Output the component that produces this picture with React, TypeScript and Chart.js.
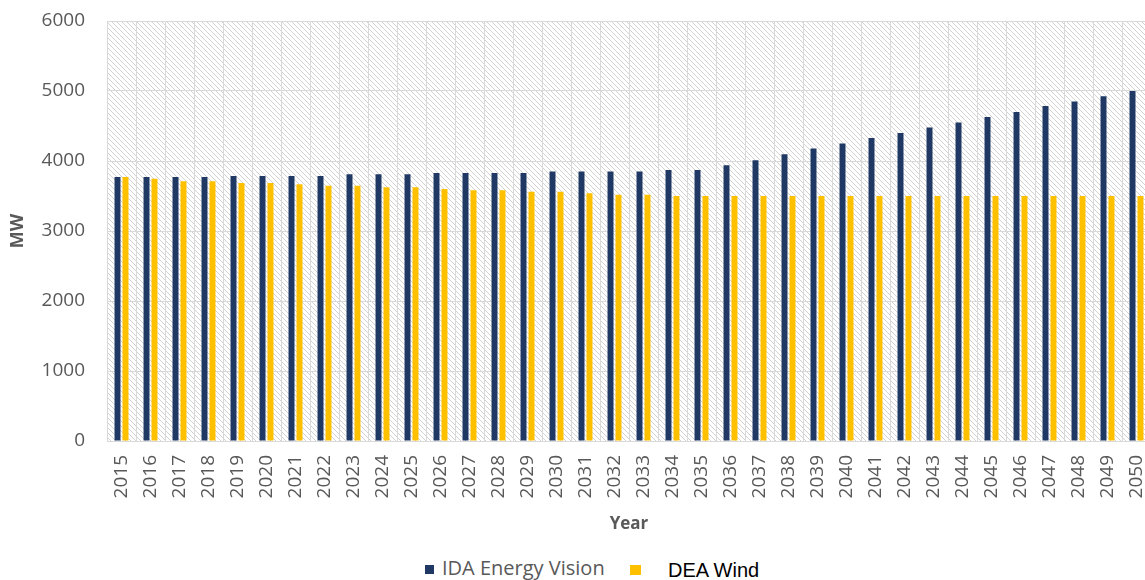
import React, { useEffect, useRef } from 'react';
import { Chart, registerables } from 'chart.js';

Chart.register(...registerables);

const years = [
  '2015', '2016', '2017', '2018', '2019', '2020', '2021', '2022', '2023', '2024', '2025', '2026',
  '2027', '2028', '2029', '2030', '2031', '2032', '2033', '2034', '2035', '2036', '2037', '2038',
  '2039', '2040', '2041', '2042', '2043', '2044', '2045', '2046', '2047', '2048', '2049', '2050',
];

const idaEnergyVision = [
  3770, 3770, 3770, 3770, 3785, 3785, 3785, 3785, 3810, 3810, 3810, 3830,
  3830, 3830, 3830, 3850, 3850, 3850, 3850, 3870, 3870, 3940, 4010, 4095,
  4180, 4250, 4330, 4400, 4480, 4550, 4630, 4700, 4785, 4850, 4925, 5000,
];

const deaWind = [
  3770, 3748, 3710, 3710, 3686, 3686, 3667, 3648, 3648, 3624, 3624, 3600,
  3581, 3581, 3562, 3562, 3538, 3519, 3519, 3500, 3500, 3500, 3500, 3500,
  3500, 3500, 3500, 3500, 3500, 3500, 3500, 3500, 3500, 3500, 3500, 3500,
];

const yMin = 0;
const yMax = 6000;
const yStep = 1000;

const CANVAS_W = 1160;
const CANVAS_H = 540;
const PLOT_BOTTOM = 441;
const PLOT_LEFT = 107;

const hatchPlugin = {
  id: 'hatchBg',
  beforeDraw(chart: any) {
    const { ctx, chartArea } = chart;
    const size = 5;
    const tile = document.createElement('canvas');
    tile.width = size;
    tile.height = size;
    const t = tile.getContext('2d')!;
    t.fillStyle = '#ffffff';
    t.fillRect(0, 0, size, size);
    t.strokeStyle = '#d2d2d2';
    t.lineWidth = 1;
    t.beginPath();
    t.moveTo(-1, -1);
    t.lineTo(size + 1, size + 1);
    t.moveTo(-1, size - 1);
    t.lineTo(1, size + 1);
    t.moveTo(size - 1, -1);
    t.lineTo(size + 1, 1);
    t.stroke();
    const pat = ctx.createPattern(tile, 'repeat');
    ctx.save();
    ctx.fillStyle = pat;
    ctx.fillRect(chartArea.left, chartArea.top, chartArea.right - chartArea.left, chartArea.bottom - chartArea.top);
    ctx.restore();
  },
};

export default function App() {
  const ref = useRef<HTMLCanvasElement>(null);

  useEffect(() => {
    document.body.style.margin = '0';
    document.documentElement.style.overflow = 'hidden';
    const chart = new Chart(ref.current!, {
      type: 'bar',
      data: {
        labels: years,
        datasets: [
          {
            label: 'IDA Energy Vision',
            data: idaEnergyVision,
            backgroundColor: '#203864',
            categoryPercentage: 0.55,
            barPercentage: 0.75,
          },
          {
            label: 'DEA Wind',
            data: deaWind,
            backgroundColor: '#FFC000',
            categoryPercentage: 0.55,
            barPercentage: 0.75,
          },
        ],
      },
      options: {
        responsive: false,
        animation: false,
        layout: { padding: { top: 21, right: 9, left: 0, bottom: 0 } },
        plugins: { legend: { display: false }, tooltip: { enabled: false } },
        scales: {
          x: {
            grid: { color: '#d9d9d9', drawTicks: true, tickLength: 14, tickColor: 'rgba(0,0,0,0)', offset: true },
            border: { color: '#d9d9d9' },
            ticks: {
              font: { family: 'Open Sans', size: 19 },
              color: '#595959',
              maxRotation: 90,
              minRotation: 90,
              padding: 0,
              autoSkip: false,
            },
            title: {
              display: true,
              text: 'Year',
              font: { family: 'Open Sans', size: 17, weight: 'bold' },
              color: '#595959',
              padding: { top: 0, bottom: 6 },
            },
            afterFit(s: any) {
              s.height = CANVAS_H - PLOT_BOTTOM;
            },
          },
          y: {
            min: yMin,
            max: yMax,
            ticks: {
              stepSize: yStep,
              font: { family: 'Open Sans', size: 19 },
              color: '#595959',
              padding: 0,
              callback: (v: any) => String(v),
            },
            grid: { color: '#d9d9d9', drawTicks: true, tickLength: 22, tickColor: 'rgba(0,0,0,0)' },
            border: { color: '#d9d9d9' },
            title: {
              display: true,
              text: 'MW',
              font: { family: 'Open Sans', size: 18, weight: 'bold' },
              color: '#595959',
              padding: { top: 7, bottom: 0 },
            },
            afterFit(s: any) {
              s.width = PLOT_LEFT;
            },
          },
        },
      },
      plugins: [hatchPlugin],
    } as any);
    return () => chart.destroy();
  }, []);

  return (
    <div style={{ position: 'relative', width: 1145, height: 580, overflow: 'hidden', background: '#fff' }}>
      <canvas ref={ref} width={CANVAS_W} height={CANVAS_H} style={{ position: 'absolute', left: 0, top: 0, display: 'block' }} />
      <div style={{ position: 'absolute', left: 425, top: 565, width: 9, height: 9, background: '#203864' }} />
      <span
        style={{
          position: 'absolute', left: 442, top: 558, fontFamily: 'Open Sans', fontSize: 20, lineHeight: '20px',
          color: '#595959', whiteSpace: 'nowrap',
        }}
      >
        IDA Energy Vision
      </span>
      <div style={{ position: 'absolute', left: 630, top: 565, width: 11, height: 10, background: '#FFC000' }} />
      <span
        style={{
          position: 'absolute', left: 668, top: 560, fontFamily: 'Arial, "Liberation Sans"', fontSize: 20, lineHeight: '20px',
          color: '#000', whiteSpace: 'nowrap',
        }}
      >
        DEA Wind
      </span>
    </div>
  );
}
